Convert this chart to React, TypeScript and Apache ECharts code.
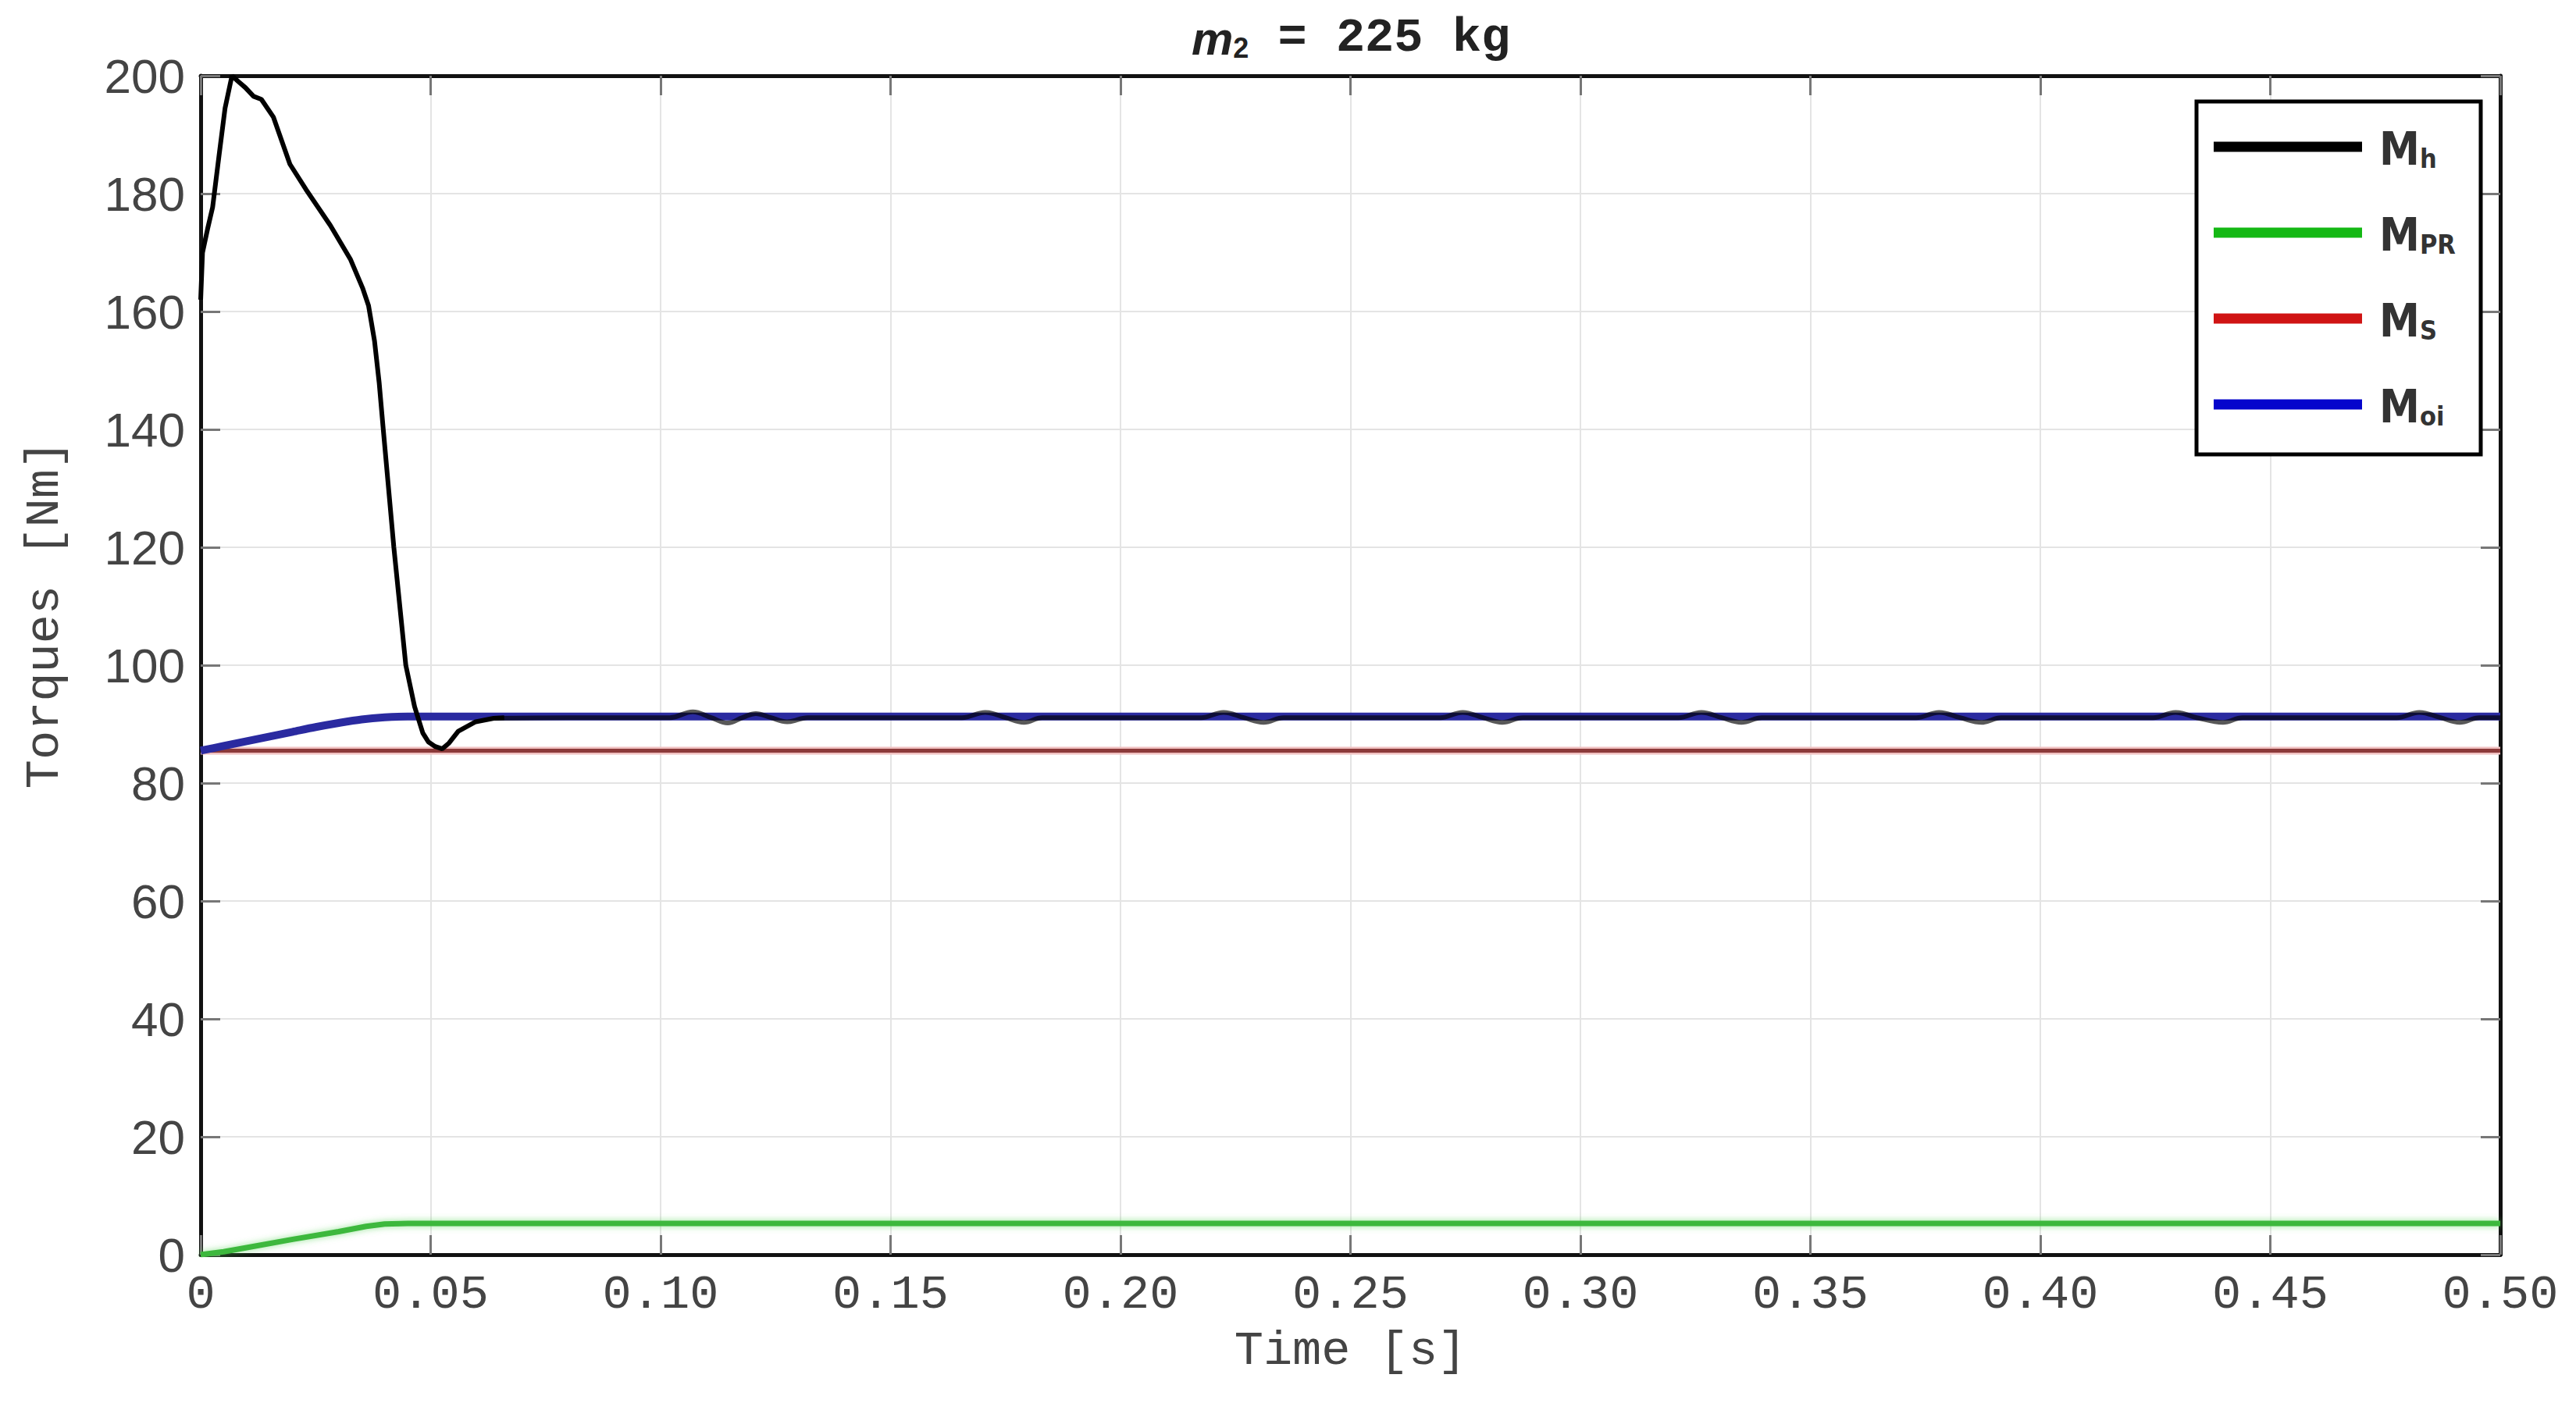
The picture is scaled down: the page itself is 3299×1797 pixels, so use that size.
import React, { useEffect, useRef } from "react";
import * as echarts from "echarts";

// ---- data ----
const mhTransientT = [0, 0.0004, 0.0015, 0.0026, 0.004, 0.0053, 0.0068, 0.0082, 0.0097, 0.0115, 0.0132, 0.0158, 0.0176, 0.0194, 0.0229, 0.0282, 0.0326, 0.0352, 0.0365, 0.0378, 0.0388, 0.0397, 0.042, 0.0446, 0.0465, 0.0483, 0.0495, 0.051, 0.0525, 0.054, 0.056, 0.0598, 0.0637, 0.066];
const mhTransientV = [162, 170, 174, 177.7, 186.5, 194.5, 200, 199, 198, 196.5, 196, 193, 189, 185, 180.7, 174.6, 168.8, 164, 161, 155, 148, 140, 120, 100, 93, 88.5, 87, 86.2, 85.8, 86.8, 88.8, 90.4, 91, 91.1];

const mhSteadyT = [0.064, 0.08, 0.102, 0.107, 0.111, 0.1146, 0.1178, 0.1207, 0.124, 0.1275, 0.132, 0.1655, 0.1706, 0.175, 0.179, 0.183, 0.2175, 0.2224, 0.2268, 0.2311, 0.2355, 0.2695, 0.2744, 0.2788, 0.283, 0.2875, 0.3213, 0.3263, 0.3307, 0.335, 0.3395, 0.373, 0.378, 0.3825, 0.3873, 0.3915, 0.4245, 0.4294, 0.434, 0.4397, 0.444, 0.4775, 0.4824, 0.487, 0.4912, 0.4955, 0.5];
const mhSteadyV = [91.0, 91.1, 91.1, 92.1, 91.1, 90.2, 91.1, 91.8, 91.1, 90.4, 91.1, 91.1, 92.0, 91.1, 90.3, 91.1, 91.1, 92.0, 91.1, 90.3, 91.1, 91.1, 92.0, 91.1, 90.3, 91.1, 91.1, 92.0, 91.1, 90.3, 91.1, 91.1, 92.0, 91.1, 90.3, 91.1, 91.1, 92.0, 91.1, 90.3, 91.1, 91.1, 92.0, 91.1, 90.3, 91.1, 91.1];

const mprT = [0, 0.005, 0.01, 0.02, 0.03, 0.036, 0.04, 0.045, 0.5];
const mprV = [0, 0.5, 1.2, 2.6, 3.9, 4.8, 5.2, 5.3, 5.3];

const msT = [0, 0.5];
const msV = [85.5, 85.5];

const moiT = [0, 0.005, 0.01, 0.015, 0.02, 0.025, 0.03, 0.035, 0.04, 0.045, 0.5];
const moiV = [85.5, 86.3, 87.1, 87.9, 88.7, 89.5, 90.2, 90.8, 91.15, 91.3, 91.3];

const legendNames = ["Mh", "MPR", "MS", "Moi"];
const legendSubs = ["h", "PR", "S", "oi"];
const legendColors = ["#000000", "#14b814", "#d01414", "#0505cc"];

const xMin = 0, xMax = 0.5, xStep = 0.05;
const yMin = 0, yMax = 200, yStep = 20;

const zip = (t: number[], v: number[]) => t.map((x, i) => [x, v[i]]);

const MONO = '"Liberation Mono", "DejaVu Sans Mono", monospace';
const SANS = '"Liberation Sans", Arial, sans-serif';
const NARROW = '"Liberation Sans Narrow", "DejaVu Sans Condensed", "DejaVu Sans", sans-serif';

export default function App() {
  const ref = useRef<HTMLDivElement>(null);
  useEffect(() => {
    if (!ref.current) return;
    const chart = echarts.init(ref.current, null, { renderer: "svg" });
    const grid = { left: 257, top: 97, right: 97, bottom: 190 };
    const tickStyle = { show: true, inside: true, length: 25, lineStyle: { color: "#777", width: 3 } };
    const axisLine = { show: true, onZero: false, lineStyle: { color: "#111", width: 5 } };
    const split = { show: true, lineStyle: { color: "#e4e4e4", width: 2 } };
    const subMap: Record<string, string> = {};
    legendNames.forEach((n, i) => (subMap[n] = legendSubs[i]));

    const option: any = {
      animation: false,
      backgroundColor: "#ffffff",
      grid,
      xAxis: [
        {
          type: "value", min: xMin, max: xMax, interval: xStep, position: "bottom",
          axisLine, axisTick: tickStyle, splitLine: split,
          axisLabel: {
            color: "#444", fontFamily: MONO, fontSize: 62, margin: 20,
            formatter: (v: number) => (v === 0 ? "0" : v.toFixed(2)),
          },
          name: "Time [s]", nameLocation: "middle", nameGap: 92,
          nameTextStyle: { color: "#444", fontFamily: MONO, fontSize: 62 },
        },
        {
          type: "value", min: xMin, max: xMax, interval: xStep, position: "top",
          axisLine, axisTick: tickStyle, splitLine: { show: false }, axisLabel: { show: false },
        },
      ],
      yAxis: [
        {
          type: "value", min: yMin, max: yMax, interval: yStep, position: "left",
          axisLine, axisTick: tickStyle, splitLine: split,
          axisLabel: { color: "#444", fontFamily: SANS, fontSize: 62, margin: 20 },
        },
        {
          type: "value", min: yMin, max: yMax, interval: yStep, position: "right",
          axisLine, axisTick: tickStyle, splitLine: { show: false }, axisLabel: { show: false },
        },
      ],
      legend: {
        orient: "vertical",
        left: 2835,
        top: 162,
        padding: 0,
        itemGap: 52,
        itemWidth: 190,
        itemHeight: 13,
        icon: "rect",
        selectedMode: false,
        z: 10,
        data: legendNames.map((n, i) => ({ name: n, itemStyle: { color: legendColors[i] } })),
        formatter: (name: string) => `{m|M}{s|${subMap[name]}}`,
        textStyle: {
          rich: {
            m: { fontSize: 58, fontWeight: "bold", fontFamily: NARROW, color: "#333", lineHeight: 64, verticalAlign: "bottom", padding: [0, 0, 0, 17] },
            s: { fontSize: 34, fontWeight: "bold", fontFamily: NARROW, color: "#333", lineHeight: 28, verticalAlign: "bottom" },
          },
        },
      },
      graphic: [
        {
          type: "rect", z: 5,
          shape: { x: 2813, y: 130, width: 364, height: 452 },
          style: { fill: "#ffffff", stroke: "#000000", lineWidth: 5 },
        },
        {
          type: "text", z: 10, x: 1730, y: 44,
          style: {
            text: "{i|m}{sub|2}{n| = 225 kg}",
            align: "center", verticalAlign: "middle",
            rich: {
              i: { fontSize: 60, fontStyle: "italic", fontWeight: "bold", fontFamily: SANS, fill: "#222", lineHeight: 70, verticalAlign: "bottom" },
              sub: { fontSize: 36, fontWeight: "bold", fontFamily: SANS, fill: "#222", lineHeight: 40, verticalAlign: "bottom" },
              n: { fontSize: 62, fontWeight: "bold", fontFamily: MONO, fill: "#222", lineHeight: 70, verticalAlign: "bottom" },
            },
          },
        },
        {
          type: "text", z: 10, x: 57, y: 787, rotation: Math.PI / 2,
          style: {
            text: "Torques [Nm]", align: "center", verticalAlign: "middle",
            font: `62px ${MONO}`, fill: "#444",
          },
        },
      ],
      series: [
        {
          name: "MPR", type: "line", showSymbol: false, symbol: "none",
          data: zip(mprT, mprV),
          itemStyle: { color: legendColors[1] },
          lineStyle: { color: "#3cb83c", width: 7, shadowColor: "rgba(80,210,80,0.6)", shadowBlur: 8 },
        },
        {
          name: "MS", type: "line", showSymbol: false, symbol: "none",
          data: zip(msT, msV),
          itemStyle: { color: legendColors[2] },
          lineStyle: { color: "#f0c0c0", width: 10 },
        },
        {
          name: "MS", type: "line", showSymbol: false, symbol: "none",
          data: zip(msT, msV),
          itemStyle: { color: legendColors[2] },
          lineStyle: { color: "#8c3a3a", width: 5 },
        },
        {
          name: "Moi", type: "line", showSymbol: false, symbol: "none", smooth: 0.3,
          data: zip(moiT, moiV),
          itemStyle: { color: legendColors[3] },
          lineStyle: { color: "#2a2aa0", width: 10 },
        },
        {
          name: "Mh", type: "line", showSymbol: false, symbol: "none",
          data: zip(mhTransientT, mhTransientV),
          itemStyle: { color: legendColors[0] },
          lineStyle: { color: "#000000", width: 6 },
        },
        {
          name: "Mh", type: "line", showSymbol: false, symbol: "none", smooth: 0.4,
          data: zip(mhSteadyT, mhSteadyV),
          itemStyle: { color: legendColors[0] },
          lineStyle: { color: "#000000", width: 6, opacity: 0.65 },
        },
      ],
    };
    chart.setOption(option);
    return () => chart.dispose();
  }, []);
  return (
    <div
      ref={ref}
      style={{ position: "absolute", left: 0, top: 0, width: 3299, height: 1797, background: "#fff" }}
    />
  );
}
